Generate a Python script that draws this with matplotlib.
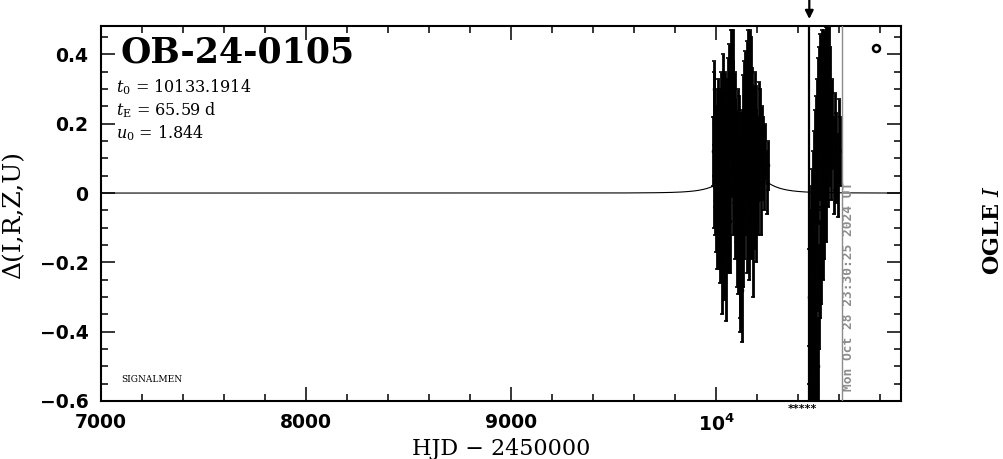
import numpy as np
import matplotlib
matplotlib.use("Agg")
import matplotlib.pyplot as plt
from matplotlib.ticker import MultipleLocator, FixedLocator, FixedFormatter
import matplotlib.transforms as mtransforms

# ---------------- data ----------------
event_name = "OB-24-0105"
t0 = 10133.1914
tE = 65.59
u0 = 1.844
t_mark = 10453.0      # arrow / black vertical line
t_now = 10610.5       # gray "now" line
now_label = "Mon Oct 28 23:30:25 2024 UT"

x_ticks = [7000, 8000, 9000, 10000]
x_tick_labels = ["7000", "8000", "9000", r"$\mathregular{10^4}$"]
y_ticks = [-0.6, -0.4, -0.2, 0.0, 0.2, 0.4]
y_tick_labels = ["\u22120.6", "\u22120.4", "\u22120.2", "0", "0.2", "0.4"]

# season 1 (HJD-2450000, delta mag, error)
s1_t = [9984, 9986, 9988, 9990, 9993, 9995, 9997, 9999, 10001, 10003,
        10005, 10007, 10009, 10011, 10013, 10015, 10017, 10019, 10021, 10023,
        10025, 10027, 10029, 10031, 10033, 10035, 10037, 10039, 10041, 10043,
        10045, 10047, 10049, 10051, 10053, 10055, 10057, 10059, 10061, 10063,
        10065, 10067, 10069, 10071, 10073, 10075, 10077, 10079, 10081, 10083,
        10085, 10087, 10089, 10091, 10093, 10095, 10097, 10099, 10101, 10103,
        10105, 10107, 10109, 10111, 10113, 10115, 10117, 10119, 10121, 10123,
        10125, 10127, 10129, 10131, 10133, 10135, 10137, 10139, 10141, 10143,
        10145, 10147, 10149, 10151, 10153, 10155, 10157, 10159, 10161, 10163,
        10165, 10167, 10169, 10171, 10173, 10175, 10177, 10179, 10181, 10183,
        10185, 10187, 10189, 10191, 10193, 10195, 10197, 10200, 10203, 10206,
        10209, 10212, 10216, 10220, 10225, 10231, 10238, 10245, 10252]
s1_y = [0.12, 0.02, 0.30, 0.20, -0.02, 0.08, 0.15, -0.05, 0.10, 0.18,
        -0.10, 0.05, 0.22, -0.08, 0.12, 0.00, 0.20, -0.12, 0.08, 0.25,
        -0.05, 0.15, -0.20, 0.10, 0.28, -0.02, 0.18, -0.15, 0.05, 0.22,
        -0.22, 0.12, -0.05, 0.20, 0.02, 0.25, -0.10, 0.15, 0.30, 0.05,
        0.22, -0.08, 0.28, 0.12, 0.33, 0.18, 0.35, 0.02, 0.25, 0.32,
        0.10, 0.20, -0.05, 0.15, 0.25, 0.00, 0.12, -0.12, 0.08, 0.18,
        -0.15, 0.05, -0.05, 0.15, -0.20, 0.02, -0.25, 0.10, -0.10, 0.12,
        -0.28, 0.05, 0.20, -0.12, 0.10, 0.25, -0.05, 0.15, 0.28, 0.02,
        0.20, -0.08, 0.22, 0.30, 0.08, 0.33, 0.15, -0.10, 0.25, 0.35,
        0.05, 0.20, 0.30, -0.05, 0.12, 0.22, -0.15, 0.08, 0.18, -0.02,
        0.10, 0.25, 0.00, 0.12, -0.08, 0.20, 0.05, 0.12, -0.02, 0.20,
        0.08, 0.18, 0.03, 0.15, 0.10, 0.05, 0.12, 0.03, 0.08]
s1_e = [0.10, 0.12, 0.08, 0.15, 0.10, 0.12, 0.10, 0.12, 0.09, 0.12,
        0.12, 0.10, 0.11, 0.14, 0.10, 0.13, 0.10, 0.14, 0.12, 0.10,
        0.15, 0.12, 0.15, 0.13, 0.12, 0.14, 0.11, 0.16, 0.12, 0.13,
        0.15, 0.12, 0.14, 0.13, 0.12, 0.14, 0.13, 0.12, 0.13, 0.14,
        0.12, 0.15, 0.14, 0.13, 0.14, 0.12, 0.12, 0.14, 0.13, 0.15,
        0.13, 0.12, 0.14, 0.12, 0.10, 0.14, 0.12, 0.15, 0.13, 0.12,
        0.14, 0.12, 0.15, 0.13, 0.16, 0.12, 0.15, 0.13, 0.14, 0.12,
        0.15, 0.13, 0.14, 0.15, 0.12, 0.13, 0.14, 0.12, 0.13, 0.14,
        0.12, 0.15, 0.13, 0.14, 0.12, 0.14, 0.13, 0.15, 0.12, 0.12,
        0.14, 0.13, 0.15, 0.14, 0.12, 0.14, 0.15, 0.12, 0.13, 0.14,
        0.12, 0.10, 0.13, 0.12, 0.12, 0.11, 0.12, 0.10, 0.10, 0.12,
        0.10, 0.12, 0.15, 0.10, 0.12, 0.10, 0.08, 0.09, 0.07]

# season 2
s2_t = [10451, 10452.5, 10454, 10455.5, 10457, 10458.5, 10460, 10461.5,
        10463, 10464.5, 10466, 10467.5, 10469, 10470.5, 10472, 10473.5,
        10475, 10476.5, 10478, 10479.5, 10481, 10482.5, 10484, 10485.5,
        10487, 10488.5, 10490, 10491.5, 10493, 10494.5, 10496, 10498,
        10500, 10502, 10504, 10506, 10508, 10510, 10512, 10514,
        10516, 10518, 10520, 10522, 10524, 10526, 10528, 10530,
        10532, 10534, 10536, 10538, 10540, 10542, 10544, 10547,
        10550, 10553, 10556, 10560, 10566, 10572, 10578, 10585,
        10592, 10598, 10604]
s2_y = [-0.70, -0.30, -0.85, -0.50, -0.18, -0.65, -0.40, -0.10,
        -0.75, -0.30, -0.05, -0.55, -0.20, 0.00, -0.70, -0.35,
        0.05, -0.50, -0.15, 0.10, -0.65, -0.25, 0.15, -0.45,
        -0.05, 0.20, -0.55, -0.20, 0.25, -0.50, 0.05, 0.30,
        -0.30, 0.12, 0.32, -0.22, 0.08, 0.28, -0.18, 0.15,
        0.35, -0.10, 0.20, 0.05, 0.33, -0.05, 0.22, 0.10,
        0.35, 0.00, 0.25, 0.12, 0.34, 0.08, 0.30, 0.20,
        0.36, 0.15, 0.30, 0.12, 0.20, 0.08, 0.15, 0.10,
        0.05, 0.15, 0.12]
s2_e = [0.15, 0.14, 0.15, 0.15, 0.13, 0.15, 0.14, 0.12,
        0.15, 0.15, 0.12, 0.14, 0.15, 0.12, 0.15, 0.14,
        0.13, 0.15, 0.14, 0.14, 0.15, 0.14, 0.13, 0.15,
        0.14, 0.13, 0.15, 0.14, 0.14, 0.14, 0.14, 0.12,
        0.15, 0.14, 0.14, 0.14, 0.13, 0.14, 0.14, 0.14,
        0.12, 0.15, 0.13, 0.14, 0.14, 0.14, 0.13, 0.14,
        0.13, 0.14, 0.14, 0.13, 0.14, 0.12, 0.14, 0.13,
        0.12, 0.13, 0.12, 0.14, 0.13, 0.14, 0.14, 0.13,
        0.12, 0.12, 0.10]

ogle_marker = (10780, 0.419)

# ---------------- figure ----------------
W, H = 1004, 459
fig = plt.figure(figsize=(W / 100, H / 100), dpi=100)
L, R, T, B = 101, 901, 26, 401
ax = fig.add_axes([L / W, (H - B) / H, (R - L) / W, (B - T) / H])

# model curve (Paczynski, from the printed parameters)
tm = np.linspace(7000, 10900, 4000)
u = np.sqrt(u0 ** 2 + ((tm - t0) / tE) ** 2)
A = (u ** 2 + 2) / (u * np.sqrt(u ** 2 + 4))
ax.plot(tm, 2.5 * np.log10(A), color="black", lw=0.8, zorder=2)

for tt, yy, ee in ((s1_t, s1_y, s1_e), (s2_t, s2_y, s2_e)):
    ax.errorbar(tt, yy, yerr=ee, fmt="s", ms=2, color="black",
                ecolor="black", elinewidth=2.0, capsize=1.4, capthick=1.2,
                zorder=3)

ax.axvline(t_mark, color="black", lw=1.6, zorder=4)
ax.axvline(t_now, color="#8c8c8c", lw=1.0, zorder=4)

ax.plot([ogle_marker[0]], [ogle_marker[1]], "o", mfc="none", mec="black",
        ms=5, mew=1.8, zorder=5)

ax.set_xlim(7000, 10900)
ax.set_ylim(-0.6, 0.482)

ax.xaxis.set_major_locator(FixedLocator(x_ticks))
ax.xaxis.set_major_formatter(FixedFormatter(x_tick_labels))
ax.xaxis.set_minor_locator(MultipleLocator(200))
ax.yaxis.set_major_locator(FixedLocator(y_ticks))
ax.yaxis.set_major_formatter(FixedFormatter(y_tick_labels))
ax.yaxis.set_minor_locator(MultipleLocator(0.05))

ax.tick_params(which="both", direction="in", top=True, right=True,
               width=1.1, color="black")
ax.tick_params(which="major", length=10)
ax.tick_params(which="minor", length=5)
ax.tick_params(axis="y", which="major", pad=9, labelsize=13.5)
ax.tick_params(axis="x", which="major", pad=9, labelsize=13.5)
for lab in ax.get_xticklabels() + ax.get_yticklabels():
    lab.set_family("DejaVu Sans")
    lab.set_weight("bold")
for sp in ax.spines.values():
    sp.set_linewidth(1.5)

# texts
ax.text(0.024, 0.93, event_name, transform=ax.transAxes, family="DejaVu Serif",
        weight="bold", fontsize=25, va="center", ha="left")
plt.rcParams["mathtext.fontset"] = "dejavuserif"
params = [r"$t_0$ = %.4f" % t0, r"$t_{\rm E}$ = %.2f d" % tE, r"$u_0$ = %.3f" % u0]
for i, s in enumerate(params):
    ypx = 87 + 23 * i
    ax.text(0.019, (B - ypx) / (B - T), s, transform=ax.transAxes,
            family="DejaVu Serif", fontsize=11.5, va="center", ha="left")
ax.text(0.025, (B - 380) / (B - T), "SIGNALMEN", transform=ax.transAxes,
        family="DejaVu Serif", fontsize=6.5, va="center", ha="left")

trans = mtransforms.blended_transform_factory(ax.transData, ax.transAxes)
ax.text(10644, (B - 391) / (B - T), now_label, transform=trans, rotation=90,
        family="DejaVu Sans Mono", weight="bold", fontsize=9.3,
        color="#8c8c8c", ha="center", va="bottom")
ax.annotate("", xy=(t_mark, (B - 19) / (B - T)), xycoords=trans,
            xytext=(t_mark, (B + 2) / (B - T)), textcoords=trans,
            arrowprops=dict(arrowstyle="-|>", color="black", lw=1.6,
                            mutation_scale=12, shrinkA=0, shrinkB=0),
            annotation_clip=False)
ax.text(10420, -(409 - B) / (B - T), "*****", transform=trans,
        fontsize=8, weight="bold", ha="center", va="center", clip_on=False)

fig.text(14 / W, 1 - 215 / H, "\u0394(I,R,Z,U)", rotation=90,
         family="DejaVu Serif", fontsize=18, ha="center", va="center")
fig.text(501 / W, 1 - 449 / H, "HJD \u2212 2450000", family="DejaVu Serif",
         fontsize=16, ha="center", va="center")
fig.text(993 / W, 1 - 230 / H, r"OGLE $\mathit{I}$", rotation=90,
         family="DejaVu Serif", weight="bold", fontsize=16,
         ha="center", va="center")

fig.savefig("out.png", dpi=100)
